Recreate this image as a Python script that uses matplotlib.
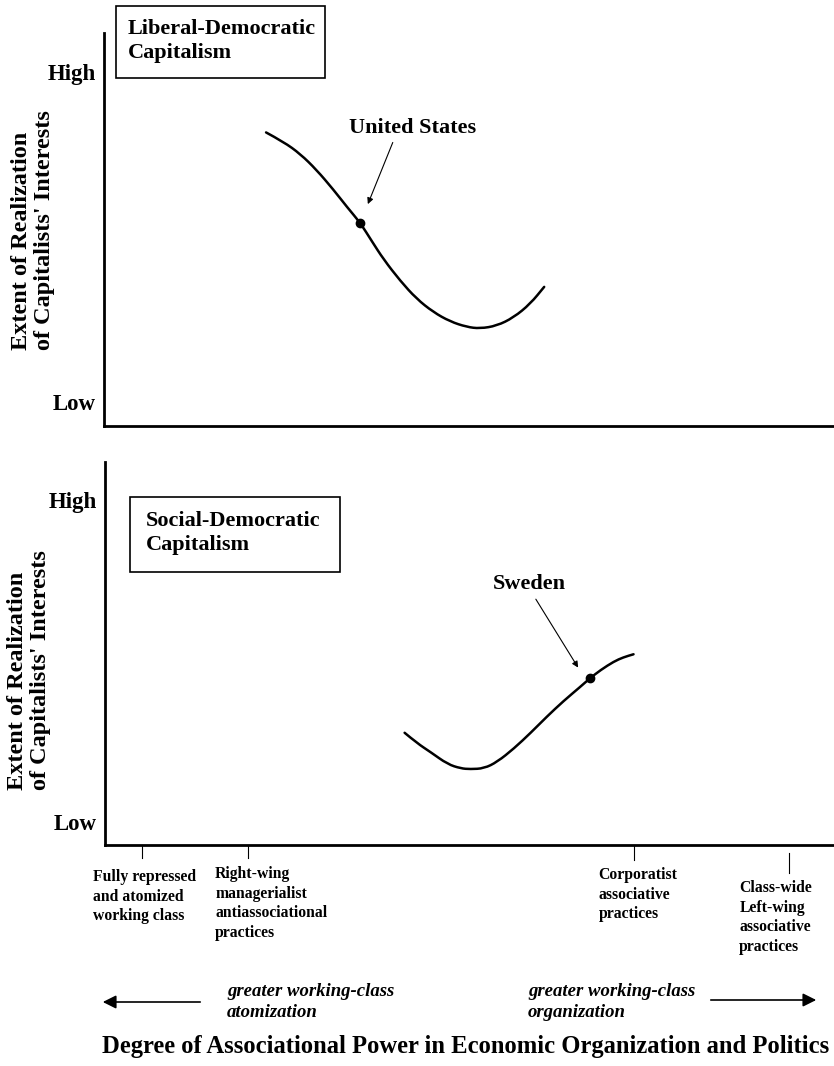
import matplotlib
matplotlib.use("Agg")
import matplotlib.pyplot as plt
import matplotlib.patches as patches
from matplotlib.path import Path

plt.rcParams['font.family'] = ['Liberation Serif', 'DejaVu Serif']
plt.rcParams['font.weight'] = 'bold'

W, H = 834, 1066

# curves (x: associational power 0-100, y: realization 0-100)
us_x = [22.2, 24.6, 26.9, 29.1, 31.4, 33.3, 35.1, 36.7, 38.3, 40.6, 42.8, 45.1,
        47.4, 49.7, 51.5, 53.8, 56.1, 58.4, 60.3]
us_y = [74.7, 72.3, 69.2, 65.2, 60.2, 55.7, 51.7, 47.0, 42.4, 36.9, 32.4, 29.0,
        26.6, 25.2, 24.8, 25.5, 27.6, 31.1, 35.4]
us_point = (35.1, 51.7)

se_x = [41.1, 42.8, 44.7, 47.0, 48.8, 50.1, 52.0, 53.8, 56.1, 58.4, 60.6, 62.9,
        65.2, 66.5, 68.0, 69.8, 71.1, 72.5]
se_y = [29.3, 26.6, 24.2, 21.1, 20.0, 19.8, 20.0, 21.7, 25.2, 29.3, 33.5, 37.6,
        41.3, 43.5, 45.7, 47.9, 49.0, 49.8]
se_point = (66.5, 43.5)

level_ticks = [6, 90]
level_labels = ['Low', 'High']

practice_pos = [5.1, 19.6, 72.5, 93.8]
practice_labels = ['Fully repressed\nand atomized\nworking class',
                   'Right-wing\nmanagerialist\nantiassociational\npractices',
                   'Corporatist\nassociative\npractices',
                   'Class-wide\nLeft-wing\nassociative\npractices']

ylabel = "Extent of Realization\nof Capitalists' Interests"


def fx(px):
    return px / W


def fy(py):
    return 1 - py / H


def smooth_curve(ax, xs, ys):
    # quadratic bezier pieces: read points as control points, midpoints as joins
    pts = list(zip(xs, ys))
    verts = [pts[0]]
    codes = [Path.MOVETO]
    for i in range(1, len(pts) - 1):
        mid = ((pts[i][0] + pts[i + 1][0]) / 2, (pts[i][1] + pts[i + 1][1]) / 2)
        verts += [pts[i], mid]
        codes += [Path.CURVE3, Path.CURVE3]
    verts.append(pts[-1])
    codes.append(Path.LINETO)
    ax.add_patch(patches.PathPatch(Path(verts, codes), fill=False, lw=1.8,
                                   edgecolor='black', capstyle='round'))


fig = plt.figure(figsize=(W / 100, H / 100), dpi=100)
ax1 = fig.add_axes([fx(104), fy(426), 1 - fx(104), (426 - 33) / H])
ax2 = fig.add_axes([fx(105), fy(845), 1 - fx(105), (845 - 462) / H])

for ax in (ax1, ax2):
    ax.set_xlim(0, 100)
    ax.set_ylim(0, 100)
    ax.spines['top'].set_visible(False)
    ax.spines['right'].set_visible(False)
    ax.spines['left'].set_linewidth(2)
    ax.spines['bottom'].set_linewidth(2)
    ax.set_xticks([])
    ax.set_yticks(level_ticks)
    ax.set_yticklabels(level_labels, fontsize=16.5, fontweight='bold')
    ax.tick_params(axis='y', length=0, pad=6)

# curves
smooth_curve(ax1, us_x, us_y)
ax1.plot(*us_point, 'o', color='black', ms=6)
ax1.text(42.3, 75.9, 'United States', fontsize=16, ha='center', va='center')
ax1.annotate('', xy=(36.0, 55.8), xytext=(39.7, 72.8),
             arrowprops=dict(arrowstyle='-|>', lw=0.8, color='black', mutation_scale=9))

smooth_curve(ax2, se_x, se_y)
ax2.plot(*se_point, 'o', color='black', ms=6)
ax2.text(58.2, 68.1, 'Sweden', fontsize=16, ha='center', va='center')
ax2.annotate('', xy=(65.1, 45.7), xytext=(58.9, 64.8),
             arrowprops=dict(arrowstyle='-|>', lw=0.8, color='black', mutation_scale=9))

# title boxes
fig.add_artist(patches.Rectangle((fx(116), fy(78)), (325 - 116) / W, 72 / H,
                                 transform=fig.transFigure, fill=False, lw=1.2))
fig.text(fx(128), fy(41), 'Liberal-Democratic\nCapitalism', fontsize=16,
         ha='left', va='center', linespacing=1.3)
fig.add_artist(patches.Rectangle((fx(130), fy(572)), (340 - 130) / W, 75 / H,
                                 transform=fig.transFigure, fill=False, lw=1.2))
fig.text(fx(146), fy(533), 'Social-Democratic\nCapitalism', fontsize=16,
         ha='left', va='center', linespacing=1.3)

# y labels
fig.text(fx(33), fy(350), ylabel, rotation=90, fontsize=17.5, ha='center',
         va='bottom', multialignment='left', linespacing=1.15)
fig.text(fx(29), fy(790), ylabel, rotation=90, fontsize=17.5, ha='center',
         va='bottom', multialignment='left', linespacing=1.15)

# practice ticks and labels under the lower panel
tr = ax2.get_xaxis_transform()
tick_spans = [(0, -0.034), (0, -0.034), (0, -0.039), (-0.021, -0.073)]
label_left = [-1.6, 15.1, 67.7, 87.0]
label_top = [-0.063, -0.055, -0.058, -0.092]
for pos, (y0, y1), lab, lx, ly in zip(practice_pos, tick_spans, practice_labels,
                                      label_left, label_top):
    ax2.plot([pos, pos], [y0, y1], color='black', lw=0.8, transform=tr, clip_on=False)
    ax2.text(lx, ly, lab, transform=tr, fontsize=11.3, ha='left', va='top',
             linespacing=1.3)

# direction arrows
fig.add_artist(patches.FancyArrowPatch((fx(203), fy(1002)), (fx(100), fy(1002)),
                                       transform=fig.transFigure, arrowstyle='-|>',
                                       mutation_scale=20, lw=1.2, color='black'))
fig.add_artist(patches.FancyArrowPatch((fx(708), fy(1000)), (fx(819), fy(1000)),
                                       transform=fig.transFigure, arrowstyle='-|>',
                                       mutation_scale=20, lw=1.2, color='black'))
fig.text(fx(227), fy(1002), 'greater working-class\natomization', fontsize=13.5,
         style='italic', ha='left', va='center', linespacing=1.25)
fig.text(fx(528), fy(1002), 'greater working-class\norganization', fontsize=13.5,
         style='italic', ha='left', va='center', linespacing=1.25)

fig.text(fx(466), fy(1047), 'Degree of Associational Power in Economic Organization and Politics',
         fontsize=17.7, ha='center', va='center')

fig.savefig('out.png', dpi=100)
